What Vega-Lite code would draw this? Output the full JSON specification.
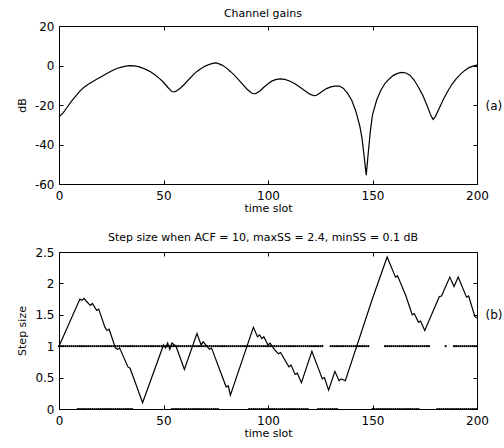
{
"$schema": "https://vega.github.io/schema/vega-lite/v6.json",
"padding": {"left": 15, "top": 7, "right": 0, "bottom": 0},
"spacing": 17,
"config": {
 "font": "DejaVu Sans",
 "view": {"stroke": "black", "strokeWidth": 1},
 "axis": {"domain": false, "grid": false, "tickSize": -4, "tickColor": "black", "labelColor": "black", "labelFontSize": 12, "titleFontSize": 11, "titleFontWeight": "normal", "titleColor": "black", "labelFont": "DejaVu Sans", "titleFont": "DejaVu Sans", "labelFlush": false, "labelOverlap": false},
 "title": {"fontSize": 11, "fontWeight": "normal", "color": "black", "font": "DejaVu Sans"}
},
"datasets": {
 "gain": [
  {"t":0,"db":-26},{"t":2,"db":-24},{"t":4,"db":-21},{"t":6,"db":-18},{"t":8,"db":-15.5},{"t":10,"db":-13},{"t":12,"db":-11},{"t":14,"db":-9.5},{"t":16,"db":-8.2},{"t":18,"db":-7},{"t":20,"db":-5.8},{"t":22,"db":-4.6},{"t":24,"db":-3.4},{"t":26,"db":-2.3},{"t":28,"db":-1.4},{"t":30,"db":-0.8},{"t":32,"db":-0.3},{"t":34,"db":-0.1},{"t":36,"db":-0.2},{"t":38,"db":-0.6},{"t":40,"db":-1.3},{"t":42,"db":-2.2},{"t":44,"db":-3.3},{"t":46,"db":-4.8},{"t":48,"db":-6.5},{"t":50,"db":-8.5},{"t":52,"db":-11},{"t":54,"db":-13.2},{"t":55,"db":-13.4},{"t":56,"db":-13},{"t":58,"db":-11.5},{"t":60,"db":-9.5},{"t":62,"db":-7.2},{"t":64,"db":-5},{"t":66,"db":-3},{"t":68,"db":-1.5},{"t":70,"db":-0.3},{"t":72,"db":0.6},{"t":74,"db":1.2},{"t":75,"db":1.3},{"t":76,"db":1.1},{"t":78,"db":0.2},{"t":80,"db":-1.2},{"t":82,"db":-3},{"t":84,"db":-5},{"t":86,"db":-7.3},{"t":88,"db":-9.7},{"t":90,"db":-12},{"t":92,"db":-13.8},{"t":93,"db":-14.3},{"t":94,"db":-14.2},{"t":96,"db":-13},{"t":98,"db":-11},{"t":100,"db":-9.2},{"t":102,"db":-7.8},{"t":104,"db":-7},{"t":106,"db":-6.8},{"t":108,"db":-7},{"t":110,"db":-7.7},{"t":112,"db":-8.7},{"t":114,"db":-10},{"t":116,"db":-11.5},{"t":118,"db":-13},{"t":120,"db":-14.5},{"t":122,"db":-15.3},{"t":123,"db":-15.2},{"t":124,"db":-14.5},{"t":126,"db":-13},{"t":128,"db":-11.7},{"t":130,"db":-10.8},{"t":132,"db":-10.4},{"t":134,"db":-10.4},{"t":136,"db":-11.5},{"t":138,"db":-14},{"t":140,"db":-17.5},{"t":142,"db":-23},{"t":144,"db":-31},{"t":145,"db":-37},{"t":146,"db":-46},{"t":147,"db":-55.5},{"t":148,"db":-44},{"t":149,"db":-33},{"t":150,"db":-25},{"t":152,"db":-17.5},{"t":154,"db":-12.5},{"t":156,"db":-9},{"t":158,"db":-6.8},{"t":160,"db":-5},{"t":162,"db":-4},{"t":164,"db":-3.5},{"t":166,"db":-3.8},{"t":168,"db":-5},{"t":170,"db":-7.5},{"t":172,"db":-11},{"t":174,"db":-15},{"t":176,"db":-20},{"t":178,"db":-25.5},{"t":179,"db":-27.3},{"t":180,"db":-26},{"t":182,"db":-21.5},{"t":184,"db":-17},{"t":186,"db":-13},{"t":188,"db":-9.5},{"t":190,"db":-6.8},{"t":192,"db":-4.5},{"t":194,"db":-2.6},{"t":196,"db":-1.2},{"t":198,"db":-0.3},{"t":200,"db":0.2}
 ],
 "ss": [
  {"t":0,"s":1.0},{"t":10,"s":1.75},{"t":11,"s":1.73},{"t":12,"s":1.76},{"t":13,"s":1.72},{"t":15,"s":1.65},{"t":16,"s":1.68},{"t":18,"s":1.57},{"t":19,"s":1.59},{"t":22,"s":1.3},{"t":23,"s":1.25},{"t":24,"s":1.27},{"t":27,"s":0.97},{"t":28,"s":0.95},{"t":29,"s":0.97},{"t":33,"s":0.67},{"t":34,"s":0.65},{"t":40,"s":0.1},{"t":50,"s":1.02},{"t":51,"s":0.97},{"t":52,"s":1.05},{"t":53,"s":0.95},{"t":54,"s":1.05},{"t":56,"s":1.0},{"t":60,"s":0.63},{"t":66,"s":1.2},{"t":68,"s":1.02},{"t":69,"s":1.07},{"t":72,"s":0.95},{"t":73,"s":0.97},{"t":80,"s":0.35},{"t":81,"s":0.37},{"t":82,"s":0.22},{"t":93,"s":1.3},{"t":95,"s":1.15},{"t":96,"s":1.18},{"t":97,"s":1.12},{"t":98,"s":1.15},{"t":100,"s":1.02},{"t":101,"s":1.05},{"t":103,"s":0.95},{"t":105,"s":0.88},{"t":106,"s":0.9},{"t":110,"s":0.67},{"t":111,"s":0.7},{"t":113,"s":0.55},{"t":114,"s":0.57},{"t":116,"s":0.42},{"t":121,"s":0.92},{"t":126,"s":0.48},{"t":127,"s":0.5},{"t":129,"s":0.3},{"t":132,"s":0.6},{"t":134,"s":0.45},{"t":135,"s":0.48},{"t":137,"s":0.45},{"t":150,"s":1.76},{"t":157,"s":2.42},{"t":161,"s":2.1},{"t":162,"s":2.12},{"t":166,"s":1.8},{"t":169,"s":1.5},{"t":170,"s":1.52},{"t":172,"s":1.38},{"t":173,"s":1.4},{"t":175,"s":1.25},{"t":182,"s":1.79},{"t":183,"s":1.8},{"t":187,"s":2.1},{"t":189,"s":1.95},{"t":191,"s":2.1},{"t":195,"s":1.78},{"t":196,"s":1.8},{"t":199,"s":1.47},{"t":200,"s":1.45}
 ],
 "dots": [
  {"t":0,"v":1},{"t":1,"v":1},{"t":2,"v":1},{"t":3,"v":1},{"t":4,"v":1},{"t":5,"v":1},{"t":6,"v":1},{"t":7,"v":1},{"t":8,"v":1},{"t":9,"v":1},{"t":10,"v":1},{"t":11,"v":1},{"t":12,"v":1},{"t":13,"v":1},{"t":14,"v":1},{"t":15,"v":1},{"t":16,"v":1},{"t":17,"v":1},{"t":18,"v":1},{"t":19,"v":1},{"t":20,"v":1},{"t":21,"v":1},{"t":22,"v":1},{"t":23,"v":1},{"t":24,"v":1},{"t":25,"v":1},{"t":26,"v":1},{"t":27,"v":1},{"t":28,"v":1},{"t":29,"v":1},{"t":30,"v":1},{"t":31,"v":1},{"t":32,"v":1},{"t":33,"v":1},{"t":34,"v":1},{"t":35,"v":1},{"t":36,"v":1},{"t":37,"v":1},{"t":38,"v":1},{"t":39,"v":1},{"t":40,"v":1},{"t":41,"v":1},{"t":42,"v":1},{"t":43,"v":1},{"t":44,"v":1},{"t":45,"v":1},{"t":46,"v":1},{"t":47,"v":1},{"t":48,"v":1},{"t":49,"v":1},{"t":50,"v":1},{"t":51,"v":1},{"t":52,"v":1},{"t":53,"v":1},{"t":54,"v":1},{"t":55,"v":1},{"t":56,"v":1},{"t":57,"v":1},{"t":58,"v":1},{"t":59,"v":1},{"t":60,"v":1},{"t":61,"v":1},{"t":62,"v":1},{"t":63,"v":1},{"t":64,"v":1},{"t":65,"v":1},{"t":66,"v":1},{"t":67,"v":1},{"t":68,"v":1},{"t":69,"v":1},{"t":70,"v":1},{"t":71,"v":1},{"t":72,"v":1},{"t":73,"v":1},{"t":74,"v":1},{"t":75,"v":1},{"t":76,"v":1},{"t":77,"v":1},{"t":78,"v":1},{"t":79,"v":1},{"t":80,"v":1},{"t":81,"v":1},{"t":82,"v":1},{"t":83,"v":1},{"t":84,"v":1},{"t":85,"v":1},{"t":86,"v":1},{"t":87,"v":1},{"t":88,"v":1},{"t":89,"v":1},{"t":90,"v":1},{"t":91,"v":1},{"t":92,"v":1},{"t":93,"v":1},{"t":94,"v":1},{"t":95,"v":1},{"t":96,"v":1},{"t":97,"v":1},{"t":98,"v":1},{"t":99,"v":1},{"t":100,"v":1},{"t":101,"v":1},{"t":102,"v":1},{"t":103,"v":1},{"t":104,"v":1},{"t":105,"v":1},{"t":106,"v":1},{"t":107,"v":1},{"t":108,"v":1},{"t":109,"v":1},{"t":110,"v":1},{"t":111,"v":1},{"t":112,"v":1},{"t":113,"v":1},{"t":114,"v":1},{"t":115,"v":1},{"t":116,"v":1},{"t":117,"v":1},{"t":118,"v":1},{"t":119,"v":1},{"t":120,"v":1},{"t":121,"v":1},{"t":122,"v":1},{"t":123,"v":1},{"t":124,"v":1},{"t":125,"v":1},{"t":126,"v":1},
  {"t":130,"v":1},{"t":131,"v":1},{"t":132,"v":1},{"t":133,"v":1},{"t":134,"v":1},{"t":135,"v":1},{"t":136,"v":1},{"t":137,"v":1},{"t":138,"v":1},{"t":139,"v":1},{"t":140,"v":1},{"t":141,"v":1},{"t":142,"v":1},{"t":143,"v":1},{"t":144,"v":1},{"t":145,"v":1},{"t":146,"v":1},{"t":147,"v":1},{"t":148,"v":1},
  {"t":156,"v":1},{"t":157,"v":1},{"t":158,"v":1},{"t":159,"v":1},{"t":160,"v":1},{"t":161,"v":1},{"t":162,"v":1},{"t":163,"v":1},{"t":164,"v":1},{"t":165,"v":1},{"t":166,"v":1},{"t":167,"v":1},{"t":168,"v":1},{"t":169,"v":1},{"t":170,"v":1},{"t":171,"v":1},{"t":172,"v":1},{"t":173,"v":1},{"t":174,"v":1},{"t":175,"v":1},{"t":176,"v":1},{"t":177,"v":1},
  {"t":185,"v":1},
  {"t":189,"v":1},{"t":190,"v":1},{"t":191,"v":1},{"t":192,"v":1},{"t":193,"v":1},{"t":194,"v":1},{"t":195,"v":1},{"t":196,"v":1},{"t":197,"v":1},{"t":198,"v":1},{"t":199,"v":1},{"t":200,"v":1},
  {"t":9,"v":0},{"t":10,"v":0},{"t":11,"v":0},{"t":12,"v":0},{"t":13,"v":0},{"t":14,"v":0},{"t":15,"v":0},{"t":16,"v":0},{"t":17,"v":0},{"t":18,"v":0},{"t":19,"v":0},{"t":20,"v":0},{"t":21,"v":0},{"t":22,"v":0},{"t":23,"v":0},{"t":24,"v":0},{"t":25,"v":0},{"t":26,"v":0},{"t":27,"v":0},{"t":28,"v":0},{"t":29,"v":0},{"t":30,"v":0},{"t":31,"v":0},{"t":32,"v":0},{"t":33,"v":0},{"t":34,"v":0},{"t":35,"v":0},
  {"t":54,"v":0},{"t":55,"v":0},{"t":56,"v":0},{"t":57,"v":0},{"t":58,"v":0},{"t":59,"v":0},{"t":60,"v":0},{"t":61,"v":0},{"t":62,"v":0},{"t":63,"v":0},{"t":64,"v":0},{"t":65,"v":0},{"t":66,"v":0},{"t":67,"v":0},{"t":68,"v":0},{"t":69,"v":0},{"t":70,"v":0},{"t":71,"v":0},{"t":72,"v":0},{"t":73,"v":0},{"t":74,"v":0},{"t":75,"v":0},{"t":76,"v":0},
  {"t":91,"v":0},{"t":92,"v":0},{"t":93,"v":0},{"t":94,"v":0},{"t":95,"v":0},{"t":96,"v":0},{"t":97,"v":0},{"t":98,"v":0},{"t":99,"v":0},{"t":100,"v":0},{"t":101,"v":0},{"t":102,"v":0},{"t":103,"v":0},{"t":104,"v":0},{"t":105,"v":0},{"t":106,"v":0},{"t":107,"v":0},{"t":108,"v":0},{"t":109,"v":0},{"t":110,"v":0},{"t":111,"v":0},{"t":112,"v":0},{"t":113,"v":0},{"t":114,"v":0},{"t":115,"v":0},{"t":116,"v":0},{"t":117,"v":0},{"t":118,"v":0},{"t":119,"v":0},
  {"t":124,"v":0},{"t":125,"v":0},{"t":126,"v":0},{"t":127,"v":0},{"t":128,"v":0},{"t":129,"v":0},{"t":130,"v":0},{"t":131,"v":0},{"t":132,"v":0},{"t":133,"v":0},
  {"t":150,"v":0},{"t":151,"v":0},{"t":152,"v":0},{"t":153,"v":0},{"t":154,"v":0},{"t":155,"v":0},{"t":156,"v":0},{"t":157,"v":0},{"t":158,"v":0},{"t":159,"v":0},{"t":160,"v":0},{"t":161,"v":0},{"t":162,"v":0},{"t":163,"v":0},{"t":164,"v":0},{"t":165,"v":0},{"t":166,"v":0},{"t":167,"v":0},{"t":168,"v":0},{"t":169,"v":0},{"t":170,"v":0},{"t":171,"v":0},{"t":172,"v":0},
  {"t":181,"v":0},{"t":182,"v":0},{"t":183,"v":0},{"t":184,"v":0},{"t":185,"v":0},{"t":186,"v":0},{"t":187,"v":0},{"t":188,"v":0},{"t":189,"v":0},{"t":190,"v":0},{"t":191,"v":0},{"t":192,"v":0},{"t":193,"v":0},{"t":194,"v":0},{"t":195,"v":0},{"t":196,"v":0},{"t":197,"v":0},{"t":198,"v":0},{"t":199,"v":0},{"t":200,"v":0}
 ]
},
"vconcat": [
 {
  "width": 418, "height": 158,
  "title": {"text": "Channel gains", "offset": 1, "dx": -5},
  "data": {"name": "gain"},
  "layer": [
   {"mark": {"type": "line", "color": "black", "strokeWidth": 1.2},
    "encoding": {
     "x": {"field": "t", "type": "quantitative", "scale": {"domain": [0, 200], "nice": false, "zero": false},
       "axis": {"values": [0, 50, 100, 150, 200], "title": "time slot", "labelPadding": 10, "minExtent": 18, "maxExtent": 18, "titlePadding": 0}},
     "y": {"field": "db", "type": "quantitative", "scale": {"domain": [-60, 20], "nice": false, "zero": false},
       "axis": {"values": [-60, -40, -20, 0, 20], "title": "dB", "labelExpr": "'' + datum.value", "labelPadding": 9, "minExtent": 26, "maxExtent": 26, "titlePadding": 6}}
    }},
   {"mark": {"type": "line", "opacity": 0},
    "encoding": {
     "x": {"field": "t", "type": "quantitative", "scale": {"domain": [0, 200], "nice": false, "zero": false},
       "axis": {"orient": "top", "values": [0, 50, 100, 150, 200], "labels": false, "title": null, "minExtent": 0, "maxExtent": 0}},
     "y": {"field": "db", "type": "quantitative", "scale": {"domain": [-60, 20], "nice": false, "zero": false},
       "axis": {"orient": "right", "values": [-60, -40, -20, 0, 20], "labels": false, "title": "(a)", "titleAngle": 0, "titleAlign": "left", "titleBaseline": "middle", "titleFontSize": 12, "titlePadding": 8, "minExtent": 0, "maxExtent": 0}}
    }}
  ],
  "resolve": {"axis": {"x": "independent", "y": "independent"}}
 },
 {
  "width": 418, "height": 157,
  "title": {"text": "Step size when ACF = 10, maxSS = 2.4, minSS = 0.1 dB", "offset": 3, "dx": -5},
  "layer": [
   {"data": {"name": "ss"},
    "mark": {"type": "line", "color": "black", "strokeWidth": 1.2},
    "encoding": {
     "x": {"field": "t", "type": "quantitative", "scale": {"domain": [0, 200], "nice": false, "zero": false},
       "axis": {"values": [0, 50, 100, 150, 200], "title": "time slot", "labelPadding": 10, "minExtent": 18, "maxExtent": 18, "titlePadding": 0}},
     "y": {"field": "s", "type": "quantitative", "scale": {"domain": [0, 2.5], "nice": false, "zero": false},
       "axis": {"values": [0, 0.5, 1, 1.5, 2, 2.5], "title": "Step size", "labelExpr": "'' + datum.value", "labelPadding": 9, "minExtent": 26, "maxExtent": 26, "titlePadding": 6}}
    }},
   {"data": {"name": "dots"},
    "mark": {"type": "point", "filled": true, "size": 5, "color": "black", "opacity": 1},
    "encoding": {
     "x": {"field": "t", "type": "quantitative", "scale": {"domain": [0, 200], "nice": false, "zero": false}, "axis": null},
     "y": {"field": "v", "type": "quantitative", "scale": {"domain": [0, 2.5], "nice": false, "zero": false}, "axis": null}
    }},
   {"data": {"name": "ss"},
    "mark": {"type": "line", "opacity": 0},
    "encoding": {
     "x": {"field": "t", "type": "quantitative", "scale": {"domain": [0, 200], "nice": false, "zero": false},
       "axis": {"orient": "top", "values": [0, 50, 100, 150, 200], "labels": false, "title": null, "minExtent": 0, "maxExtent": 0}},
     "y": {"field": "s", "type": "quantitative", "scale": {"domain": [0, 2.5], "nice": false, "zero": false},
       "axis": {"orient": "right", "values": [0, 0.5, 1, 1.5, 2, 2.5], "labels": false, "title": "(b)", "titleAngle": 0, "titleAlign": "left", "titleBaseline": "middle", "titleFontSize": 12, "titlePadding": 8, "titleY": 62, "minExtent": 0, "maxExtent": 0}}
    }}
  ],
  "resolve": {"axis": {"x": "independent", "y": "independent"}}
 }
]
}
